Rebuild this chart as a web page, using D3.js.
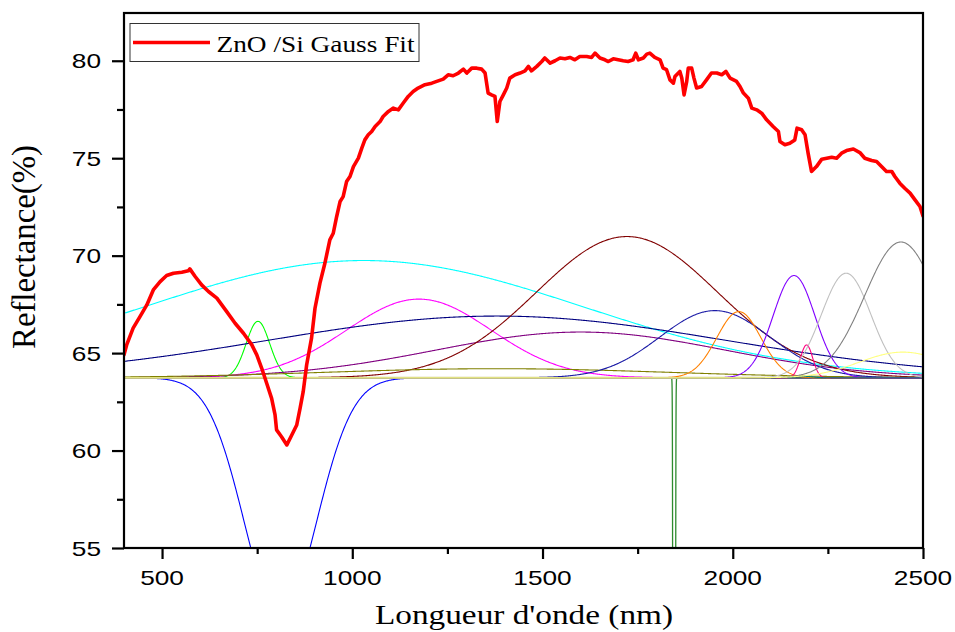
<!DOCTYPE html>
<html>
<head>
<meta charset="utf-8">
<script src="https://cdn.jsdelivr.net/npm/d3@7"></script>
<style>
  body { margin: 0; background: #fff; }
  svg { display: block; }
</style>
</head>
<body>
<svg id="chart" width="955" height="632"></svg>
<script>
// Measured reflectance of the ZnO/Si film
const wavelength = [400,407,424,442,460,477,495,512,530,552,569,573,587,604,622,644,670,692,714,736,749,762,775,788,797,801,814,828,841,854,863,871,880,893,902,915,928,941,950,959,968,976,985,994,1003,1016,1025,1033,1042,1051,1060,1073,1081,1095,1108,1121,1134,1147,1160,1173,1191,1209,1222,1239,1252,1265,1279,1292,1301,1314,1327,1340,1349,1357,1366,1375,1381,1388,1397,1406,1414,1428,1441,1454,1463,1471,1485,1498,1506,1520,1533,1546,1559,1572,1585,1598,1616,1629,1638,1651,1664,1673,1686,1699,1712,1725,1738,1745,1752,1765,1774,1782,1795,1809,1817,1826,1835,1844,1848,1861,1866,1872,1879,1883,1892,1898,1905,1918,1931,1944,1958,1971,1982,1993,2010,2019,2028,2041,2050,2063,2076,2089,2106,2120,2124,2137,2150,2163,2169,2181,2190,2198,2207,2220,2234,2247,2260,2273,2286,2299,2317,2334,2347,2365,2378,2391,2404,2418,2426,2439,2452,2466,2479,2492,2500];
const reflectance = [64.91,65.42,66.28,66.87,67.47,68.24,68.67,68.98,69.10,69.15,69.22,69.32,68.93,68.50,68.16,67.82,67.13,66.53,66.02,65.42,64.91,64.22,63.45,62.68,61.83,61.06,60.71,60.29,60.80,61.31,62.19,63.02,64.39,65.78,67.30,68.59,69.61,70.81,71.15,72.01,72.78,73.03,73.80,74.06,74.57,75.00,75.52,75.94,76.20,76.37,76.63,76.88,77.14,77.40,77.57,77.48,77.83,78.17,78.42,78.60,78.77,78.85,78.94,79.06,79.28,79.23,79.37,79.57,79.37,79.62,79.62,79.57,79.37,78.34,78.25,78.17,76.88,77.91,78.25,78.60,79.11,79.28,79.37,79.48,79.71,79.48,79.71,79.96,80.14,79.88,80.00,80.14,80.10,80.17,80.05,80.22,80.22,80.17,80.39,80.14,80.05,79.96,80.10,80.05,80.00,79.96,80.05,80.39,80.05,80.14,80.34,80.39,80.17,80.05,79.62,79.54,79.02,78.85,79.19,79.45,79.11,78.25,78.94,79.62,79.62,79.11,78.60,78.68,79.02,79.37,79.37,79.28,79.45,79.11,78.94,78.68,78.34,78.08,77.57,77.48,77.31,76.97,76.63,76.37,75.86,75.69,75.77,75.94,76.54,76.46,76.20,75.26,74.32,74.57,74.95,75.00,75.05,75.00,75.26,75.39,75.47,75.29,75.00,74.88,74.83,74.57,74.32,74.32,74.06,73.72,73.46,73.21,72.86,72.52,72.04];

// Gaussian fit: common offset and one entry per component (centre nm, amplitude %, sigma nm)
const baselineY0 = 63.73;
const peakCenters    = [752, 811, 1030, 1175, 1380, 1600, 1722, 1380, 1846, 1953, 2016, 2161, 2194, 2185, 2298, 2442, 2447];
const peakAmplitudes = [2.90, -12.2, 6.02, 4.04, 3.17, 2.35, 7.25, 0.47, -400, 3.45, 3.40, 5.25, 1.69, 0.08, 5.37, 6.97, 1.32];
const peakSigmas     = [31, 95, 576, 190, 603, 380, 238, 450, 1.5, 145, 58, 55, 16, 25, 65, 95, 115];
const peakColors = ["#00ff00", "#0000ff", "#00ffff", "#ff00ff", "#000080", "#800080", "#800000", "#808000",
                    "#2e8b2e", "#1a1aa6", "#ff8000", "#8000ff", "#ff0080", "#008080", "#c0c0c0", "#808080", "#ffff80"];

const xMajorTicks = [500, 1000, 1500, 2000, 2500];
const xMinorTicks = [750, 1250, 1750, 2250];
const yMajorTicks = [55, 60, 65, 70, 75, 80];
const yMinorTicks = [57.5, 62.5, 67.5, 72.5, 77.5];
const legendLabel = "ZnO /Si Gauss Fit";
const xTitle = "Longueur d'onde (nm)";
const yTitle = "Reflectance(%)";

const svg = d3.select("#chart");
const plot = { left: 124, right: 923, top: 13, bottom: 548 };

const x = d3.scaleLinear().domain([400, 2500]).range([plot.left, plot.right]);
const y = d3.scaleLinear().domain([55, 82.45]).range([plot.bottom, plot.top]);

svg.append("defs").append("clipPath").attr("id", "plotClip")
  .append("rect")
  .attr("x", plot.left).attr("y", plot.top)
  .attr("width", plot.right - plot.left).attr("height", plot.bottom - plot.top);

const gPlot = svg.append("g").attr("clip-path", "url(#plotClip)");

// Sample each Gaussian component, with a finer step around narrow peaks
function sampleComponent(i) {
  const xc = peakCenters[i], A = peakAmplitudes[i], s = peakSigmas[i];
  let xs = d3.range(400, 2500.001, 2);
  if (s < 40) {
    const step = s / 12;
    xs = xs.concat(d3.range(xc - 7 * s, xc + 7 * s, step));
    xs.sort((a, b) => a - b);
  }
  return xs.map(v => [v, baselineY0 + A * Math.exp(-((v - xc) ** 2) / (2 * s * s))]);
}

const line = d3.line().x(d => x(d[0])).y(d => y(d[1]));

// Fit baseline (offset) under all components
gPlot.append("path")
  .datum([[400, baselineY0], [2500, baselineY0]])
  .attr("d", line)
  .attr("fill", "none")
  .attr("stroke", "#d4c98c")
  .attr("stroke-width", 2.4);

peakCenters.forEach((_, i) => {
  gPlot.append("path")
    .datum(sampleComponent(i))
    .attr("d", line)
    .attr("fill", "none")
    .attr("stroke", peakColors[i])
    .attr("stroke-width", i === 8 ? 1.3 : 1.1)
    .attr("stroke-linejoin", "round");
});

// Measured spectrum
gPlot.append("path")
  .datum(wavelength.map((w, i) => [w, reflectance[i]]))
  .attr("d", line)
  .attr("fill", "none")
  .attr("stroke", "#ff0000")
  .attr("stroke-width", 3.6)
  .attr("stroke-linejoin", "round")
  .attr("stroke-linecap", "round");

// Frame
svg.append("rect")
  .attr("x", plot.left).attr("y", plot.top)
  .attr("width", plot.right - plot.left).attr("height", plot.bottom - plot.top)
  .attr("fill", "none").attr("stroke", "#000").attr("stroke-width", 2.2);

// Axes ticks
const axisStyle = g => g.select(".domain").remove();
svg.append("g").attr("transform", `translate(0,${plot.bottom})`)
  .call(d3.axisBottom(x).tickValues(xMajorTicks).tickSize(11).tickFormat(""))
  .call(axisStyle)
  .selectAll("line").attr("stroke-width", 2.2);
svg.append("g").attr("transform", `translate(0,${plot.bottom})`)
  .call(d3.axisBottom(x).tickValues(xMinorTicks).tickSize(6).tickFormat(""))
  .call(axisStyle)
  .selectAll("line").attr("stroke-width", 2.2);
svg.append("g").attr("transform", `translate(${plot.left},0)`)
  .call(d3.axisLeft(y).tickValues(yMajorTicks).tickSize(12).tickFormat(""))
  .call(axisStyle)
  .selectAll("line").attr("stroke-width", 2.2);
svg.append("g").attr("transform", `translate(${plot.left},0)`)
  .call(d3.axisLeft(y).tickValues(yMinorTicks).tickSize(7).tickFormat(""))
  .call(axisStyle)
  .selectAll("line").attr("stroke-width", 2.2);

// Tick labels
const tickFont = "'Liberation Sans', Arial, sans-serif";
svg.append("g").selectAll("text").data(xMajorTicks).join("text")
  .attr("transform", d => `translate(${x(d)},585) scale(1.25,1)`)
  .attr("text-anchor", "middle")
  .attr("font-family", tickFont).attr("font-size", 21)
  .text(d => d);
svg.append("g").selectAll("text").data(yMajorTicks).join("text")
  .attr("transform", d => `translate(101,${y(d) + 7.5}) scale(1.25,1)`)
  .attr("text-anchor", "end")
  .attr("font-family", tickFont).attr("font-size", 21)
  .text(d => d);

// Axis titles
const serif = "'Liberation Serif', 'Times New Roman', serif";
svg.append("text")
  .attr("x", 375).attr("y", 624)
  .attr("font-family", serif).attr("font-size", 28)
  .attr("textLength", 298).attr("lengthAdjust", "spacingAndGlyphs")
  .text(xTitle);
svg.append("text")
  .attr("transform", "translate(35,247) scale(1.25,1) rotate(-90)")
  .attr("text-anchor", "middle")
  .attr("font-family", serif).attr("font-size", 27)
  .attr("textLength", 204).attr("lengthAdjust", "spacingAndGlyphs")
  .text(yTitle);

// Legend
const legend = svg.append("g");
legend.append("rect")
  .attr("x", 130).attr("y", 23.5).attr("width", 289).attr("height", 38)
  .attr("fill", "#fff").attr("stroke", "#333").attr("stroke-width", 1);
legend.append("line")
  .attr("x1", 133).attr("x2", 210).attr("y1", 42.5).attr("y2", 42.5)
  .attr("stroke", "#ff0000").attr("stroke-width", 3.6);
legend.append("text")
  .attr("x", 216.5).attr("y", 51.7)
  .attr("font-family", serif).attr("font-size", 24)
  .attr("textLength", 198).attr("lengthAdjust", "spacingAndGlyphs")
  .text(legendLabel);
</script>
</body>
</html>
